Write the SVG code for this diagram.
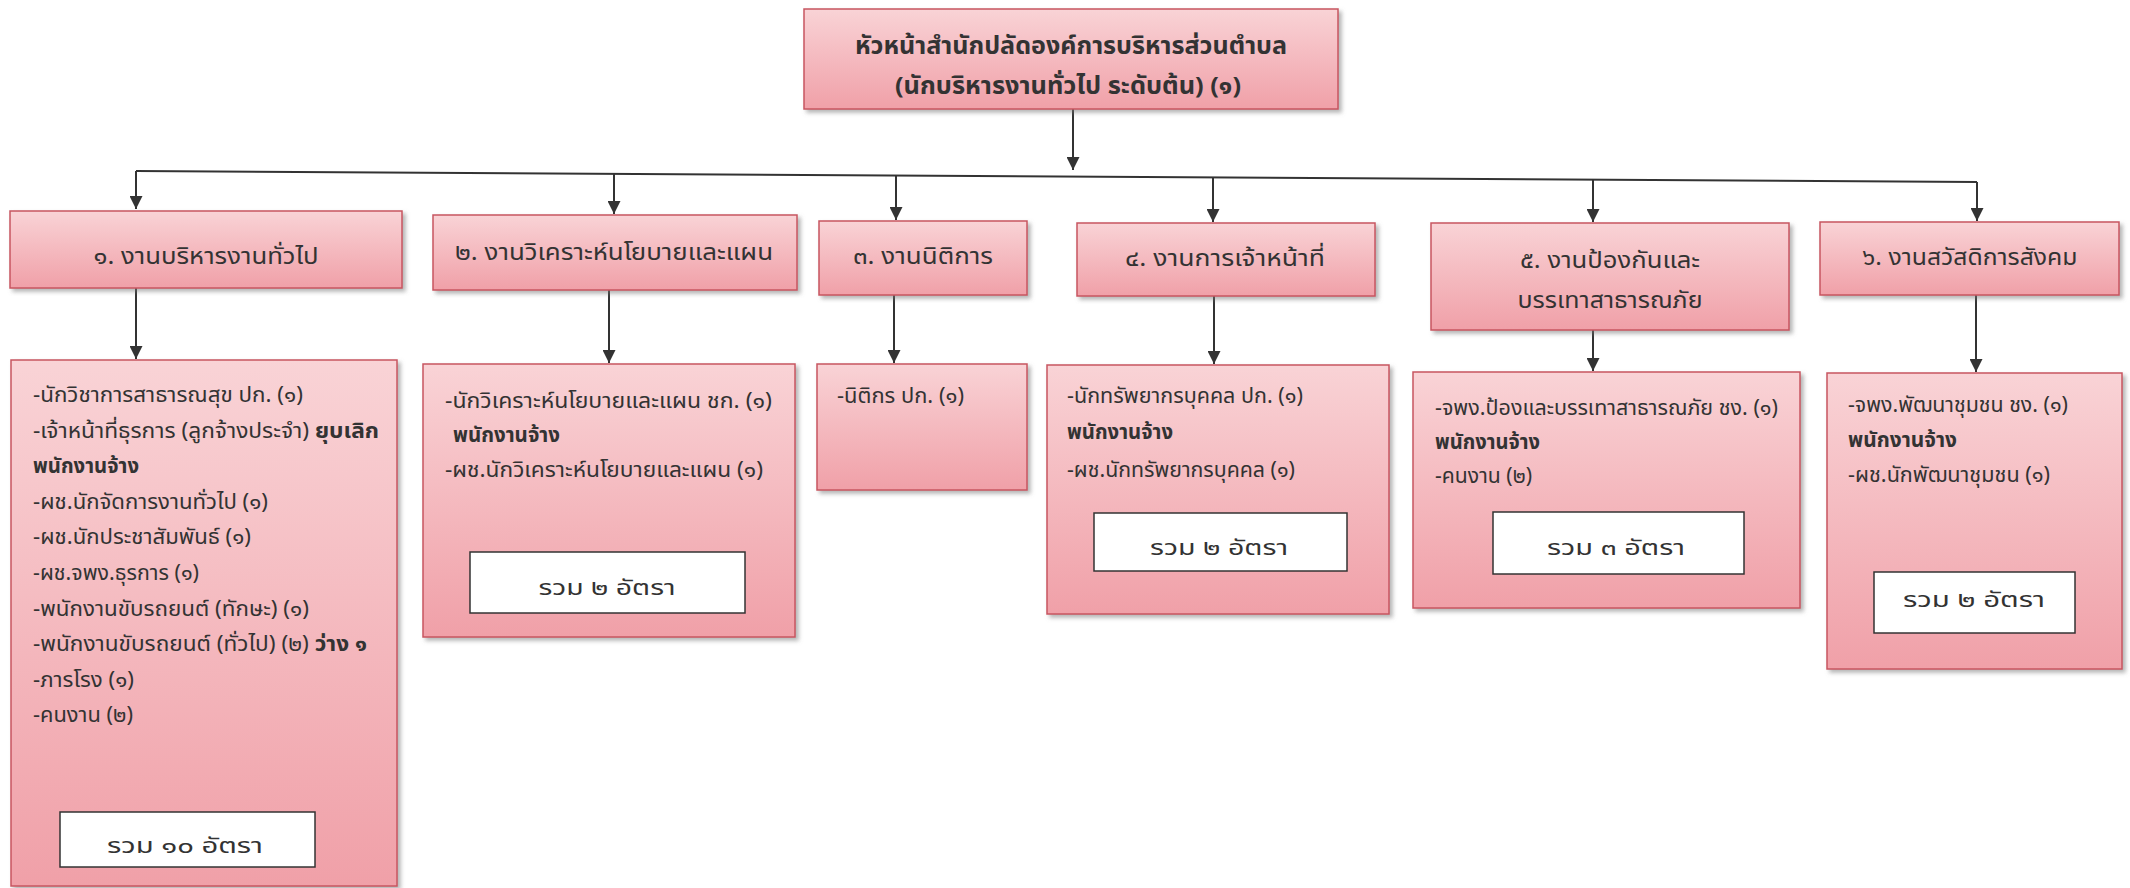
<svg xmlns="http://www.w3.org/2000/svg" width="2130" height="888" viewBox="0 0 2130 888">
<style>
text{font-family:"Noto Sans Thai","Noto Sans Thai Looped","Noto Sans","DejaVu Sans",sans-serif;fill:#333}
.box{fill:url(#pink);stroke:#c85560;stroke-width:1.5;filter:url(#sh)}
.wbox{fill:#fff;stroke:#333;stroke-width:1.5}
.h{font-size:23px;text-anchor:middle}
.top{font-size:24px;font-weight:bold;text-anchor:middle}
.c{font-size:21px}
.b{font-weight:bold}
.t{font-size:22px;text-anchor:middle}
.ln{stroke:#333;stroke-width:2;fill:none}
</style>
<defs>
<linearGradient id="pink" x1="0" y1="0" x2="0" y2="1">
<stop offset="0" stop-color="#f9d3d6"/>
<stop offset="1" stop-color="#f0a0a8"/>
</linearGradient>
<filter id="sh" x="-5%" y="-5%" width="115%" height="115%">
<feDropShadow dx="3" dy="3" stdDeviation="2" flood-color="#777" flood-opacity="0.55"/>
</filter>
<marker id="ar" viewBox="0 0 10 10" refX="10" refY="5" markerWidth="13" markerHeight="13" markerUnits="userSpaceOnUse" orient="auto">
<path d="M0,0 L10,5 L0,10 z" fill="#333"/>
</marker>
</defs>

<g id="connectors">
<line class="ln" x1="1073" y1="109" x2="1073" y2="170" marker-end="url(#ar)"/>
<line class="ln" x1="136" y1="171" x2="1977" y2="182"/>
<line class="ln" x1="136" y1="171" x2="136" y2="209" marker-end="url(#ar)"/>
<line class="ln" x1="614" y1="173.9" x2="614" y2="214" marker-end="url(#ar)"/>
<line class="ln" x1="896" y1="175.5" x2="896" y2="220" marker-end="url(#ar)"/>
<line class="ln" x1="1213" y1="177.4" x2="1213" y2="222" marker-end="url(#ar)"/>
<line class="ln" x1="1593" y1="179.7" x2="1593" y2="222" marker-end="url(#ar)"/>
<line class="ln" x1="1977" y1="182" x2="1977" y2="221" marker-end="url(#ar)"/>
<line class="ln" x1="136" y1="288" x2="136" y2="359" marker-end="url(#ar)"/>
<line class="ln" x1="609" y1="290" x2="609" y2="363" marker-end="url(#ar)"/>
<line class="ln" x1="894" y1="295" x2="894" y2="363" marker-end="url(#ar)"/>
<line class="ln" x1="1214" y1="296" x2="1214" y2="364" marker-end="url(#ar)"/>
<line class="ln" x1="1593" y1="330" x2="1593" y2="371" marker-end="url(#ar)"/>
<line class="ln" x1="1976" y1="295" x2="1976" y2="372" marker-end="url(#ar)"/>
</g>

<g id="head">
<rect class="box" x="804" y="9" width="534" height="100"/>
<text class="top" x="1071" y="54" textLength="432" lengthAdjust="spacingAndGlyphs">หัวหน้าสำนักปลัดองค์การบริหารส่วนตำบล</text>
<text class="top" x="1068" y="94" textLength="346" lengthAdjust="spacingAndGlyphs">(นักบริหารงานทั่วไป ระดับต้น) (๑)</text>
</g>

<g id="sec1">
<rect class="box" x="10" y="211" width="392" height="77"/>
<text class="h" x="206" y="264" textLength="225" lengthAdjust="spacingAndGlyphs">๑. งานบริหารงานทั่วไป</text>
</g>
<g id="sec2">
<rect class="box" x="433" y="215" width="364" height="75"/>
<text class="h" x="614" y="260" textLength="318" lengthAdjust="spacingAndGlyphs">๒. งานวิเคราะห์นโยบายและแผน</text>
</g>
<g id="sec3">
<rect class="box" x="819" y="221" width="208" height="74"/>
<text class="h" x="923" y="264" textLength="140" lengthAdjust="spacingAndGlyphs">๓. งานนิติการ</text>
</g>
<g id="sec4">
<rect class="box" x="1077" y="223" width="298" height="73"/>
<text class="h" x="1225" y="266" textLength="200" lengthAdjust="spacingAndGlyphs">๔. งานการเจ้าหน้าที่</text>
</g>
<g id="sec5">
<rect class="box" x="1431" y="223" width="358" height="107"/>
<text class="h" x="1610" y="268" textLength="180" lengthAdjust="spacingAndGlyphs">๕. งานป้องกันและ</text>
<text class="h" x="1610" y="308" textLength="185" lengthAdjust="spacingAndGlyphs">บรรเทาสาธารณภัย</text>
</g>
<g id="sec6">
<rect class="box" x="1820" y="222" width="299" height="73"/>
<text class="h" x="1970" y="265" textLength="215" lengthAdjust="spacingAndGlyphs">๖. งานสวัสดิการสังคม</text>
</g>

<g id="staff1">
<rect class="box" x="11" y="360" width="386" height="526"/>
<text class="c" x="33" y="402" textLength="270" lengthAdjust="spacingAndGlyphs">-นักวิชาการสาธารณสุข ปก. (๑)</text>
<text class="c" x="33" y="437.6" textLength="346" lengthAdjust="spacingAndGlyphs">-เจ้าหน้าที่ธุรการ (ลูกจ้างประจำ) <tspan class="b">ยุบเลิก</tspan></text>
<text class="c b" x="33" y="473.2" textLength="106" lengthAdjust="spacingAndGlyphs">พนักงานจ้าง</text>
<text class="c" x="33" y="508.8" textLength="235" lengthAdjust="spacingAndGlyphs">-ผช.นักจัดการงานทั่วไป (๑)</text>
<text class="c" x="33" y="544.4" textLength="218" lengthAdjust="spacingAndGlyphs">-ผช.นักประชาสัมพันธ์ (๑)</text>
<text class="c" x="33" y="580" textLength="166" lengthAdjust="spacingAndGlyphs">-ผช.จพง.ธุรการ (๑)</text>
<text class="c" x="33" y="615.6" textLength="276" lengthAdjust="spacingAndGlyphs">-พนักงานขับรถยนต์ (ทักษะ) (๑)</text>
<text class="c" x="33" y="651.2" textLength="334" lengthAdjust="spacingAndGlyphs">-พนักงานขับรถยนต์ (ทั่วไป) (๒) <tspan class="b">ว่าง ๑</tspan></text>
<text class="c" x="33" y="686.8" textLength="101" lengthAdjust="spacingAndGlyphs">-ภารโรง (๑)</text>
<text class="c" x="33" y="722.4" textLength="100" lengthAdjust="spacingAndGlyphs">-คนงาน (๒)</text>
<rect class="wbox" x="60" y="812" width="255" height="55"/>
<text class="t" x="185" y="853" textLength="156" lengthAdjust="spacingAndGlyphs">รวม  ๑๐  อัตรา</text>
</g>

<g id="staff2">
<rect class="box" x="423" y="364" width="372" height="273"/>
<text class="c" x="445" y="408" textLength="327" lengthAdjust="spacingAndGlyphs">-นักวิเคราะห์นโยบายและแผน  ชก. (๑)</text>
<text class="c b" x="453" y="442" textLength="107" lengthAdjust="spacingAndGlyphs">พนักงานจ้าง</text>
<text class="c" x="445" y="477" textLength="318" lengthAdjust="spacingAndGlyphs">-ผช.นักวิเคราะห์นโยบายและแผน  (๑)</text>
<rect class="wbox" x="470" y="552" width="275" height="61"/>
<text class="t" x="607" y="595" textLength="137" lengthAdjust="spacingAndGlyphs">รวม  ๒  อัตรา</text>
</g>

<g id="staff3">
<rect class="box" x="817" y="364" width="210" height="126"/>
<text class="c" x="837" y="403" textLength="127" lengthAdjust="spacingAndGlyphs">-นิติกร ปก. (๑)</text>
</g>

<g id="staff4">
<rect class="box" x="1047" y="365" width="342" height="249"/>
<text class="c" x="1067" y="403" textLength="236" lengthAdjust="spacingAndGlyphs">-นักทรัพยากรบุคคล ปก. (๑)</text>
<text class="c b" x="1067" y="439" textLength="106" lengthAdjust="spacingAndGlyphs">พนักงานจ้าง</text>
<text class="c" x="1067" y="477" textLength="228" lengthAdjust="spacingAndGlyphs">-ผช.นักทรัพยากรบุคคล (๑)</text>
<rect class="wbox" x="1094" y="513" width="253" height="58"/>
<text class="t" x="1219" y="555" textLength="138" lengthAdjust="spacingAndGlyphs">รวม  ๒  อัตรา</text>
</g>

<g id="staff5">
<rect class="box" x="1413" y="372" width="387" height="236"/>
<text class="c" x="1435" y="415" textLength="343" lengthAdjust="spacingAndGlyphs">-จพง.ป้องและบรรเทาสาธารณภัย ชง. (๑)</text>
<text class="c b" x="1435" y="449" textLength="105" lengthAdjust="spacingAndGlyphs">พนักงานจ้าง</text>
<text class="c" x="1435" y="483" textLength="97" lengthAdjust="spacingAndGlyphs">-คนงาน (๒)</text>
<rect class="wbox" x="1493" y="512" width="251" height="62"/>
<text class="t" x="1616" y="555" textLength="138" lengthAdjust="spacingAndGlyphs">รวม  ๓  อัตรา</text>
</g>

<g id="staff6">
<rect class="box" x="1827" y="373" width="295" height="296"/>
<text class="c" x="1848" y="412" textLength="220" lengthAdjust="spacingAndGlyphs">-จพง.พัฒนาชุมชน ชง. (๑)</text>
<text class="c b" x="1848" y="447" textLength="109" lengthAdjust="spacingAndGlyphs">พนักงานจ้าง</text>
<text class="c" x="1848" y="482" textLength="202" lengthAdjust="spacingAndGlyphs">-ผช.นักพัฒนาชุมชน (๑)</text>
<rect class="wbox" x="1874" y="572" width="201" height="61"/>
<text class="t" x="1974" y="607" textLength="142" lengthAdjust="spacingAndGlyphs">รวม  ๒  อัตรา</text>
</g>
</svg>
